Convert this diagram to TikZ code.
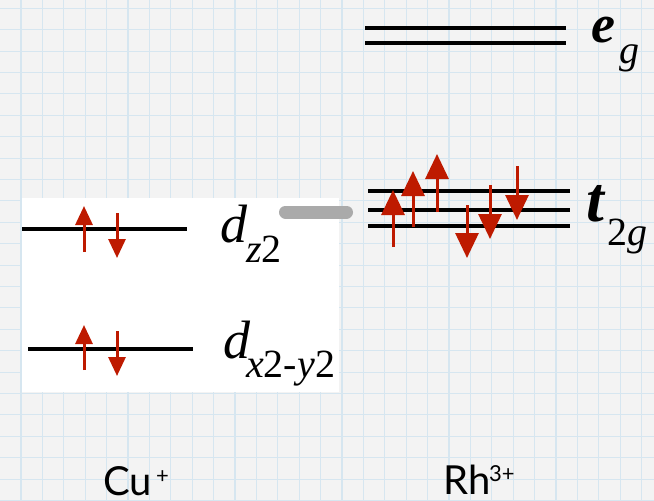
\documentclass[tikz,border=0pt]{standalone}
\usepackage{fontspec}
\setmainfont{Liberation Serif}
\newfontfamily\gillfont{Lato}
\usetikzlibrary{arrows.meta}
\definecolor{bgc}{HTML}{F3F3F3}
\definecolor{gridc}{HTML}{D6E6F0}
\definecolor{spinc}{HTML}{BE1A00}
\definecolor{barc}{HTML}{AAAAAA}
\tikzset{
  level/.style={line width=3.3pt, black},
  tlevel/.style={line width=4pt, black},
  spin/.style={line width=3pt, spinc, -{Triangle[width=17pt,length=19pt]}},
  bigspin/.style={line width=3pt, spinc, -{Triangle[width=23pt,length=25pt]}},
  lbl/.style={inner sep=0pt, anchor=base west, font=\fontsize{54}{54}\selectfont\itshape},
  blbl/.style={inner sep=0pt, anchor=base west, font=\fontsize{54}{54}\selectfont\bfseries\itshape},
  sublbl/.style={inner sep=0pt, anchor=base west, font=\fontsize{40}{40}\selectfont},
  ionlbl/.style={inner sep=0pt, text depth=0pt, anchor=base west, font=\gillfont\fontsize{40}{40}\selectfont},
  ionsup/.style={inner sep=0pt, text depth=0pt, anchor=base west, font=\gillfont\fontsize{22}{22}\selectfont}
}
\begin{document}
\begin{tikzpicture}[x=1pt,y=-1pt]
\useasboundingbox (0,0) rectangle (654,501);
\fill[bgc] (0,0) rectangle (654,501);
\foreach \i in {0,...,30} \draw[gridc, line width=1.1pt] ({21+21.4*\i},0) -- ++(0,501);
\foreach \j in {0,...,23} \draw[gridc, line width=1.1pt] (0,{8.3+21.4*\j}) -- ++(654,0);
% white panel
\fill[white] (22,198) rectangle (339,392);
% Cu+ levels
\coordinate (dz1) at (22,229); \coordinate (dz2) at (187,229);
\draw[level] (dz1) -- (dz2);
\coordinate (dx1) at (28,349); \coordinate (dx2) at (193,349);
\draw[level] (dx1) -- (dx2);
\draw[spin] (84,252) -- (84,206);
\draw[spin] (117,213) -- (117,258);
\draw[spin] (84,370) -- (84,325);
\draw[spin] (117,331) -- (117,376);
\node[lbl] (dzl) at (220,242) {d};
\node[sublbl] (dzs) at (246,262) {\itshape z\upshape 2};
\node[lbl] (dxl) at (223,358) {d};
\node[sublbl] (dxs) at (246,377) {\itshape x\upshape 2-\itshape y\upshape 2};
% gray bar
\draw[barc, line width=13pt, line cap=round] (285.5,212) -- (346.5,212);
% e_g
\draw[tlevel] (365,28) -- (566,28);
\draw[tlevel] (365,43) -- (566,43);
\node[blbl] (el) at (591,42) {e};
\node[sublbl] (es) at (619,63) {\itshape g};
% t2g
\draw[tlevel] (368,191) -- (570,191);
\draw[tlevel] (368,210) -- (570,210);
\draw[tlevel] (368,226) -- (570,226);
\draw[bigspin] (393,247) -- (393,190);
\draw[bigspin] (413,227) -- (413,171);
\draw[bigspin] (437,212) -- (437,154);
\draw[bigspin] (467,205) -- (467,258);
\draw[bigspin] (490,185) -- (490,239);
\draw[bigspin] (517,166) -- (517,220);
\node[inner sep=0pt, anchor=base west, font=\fontsize{64}{64}\selectfont\bfseries\itshape] (tl) at (586,221) {t};
\node[sublbl] (ts) at (607,245) {2\itshape g};
% ion labels
\node[ionlbl] (cu) at (103,495) {Cu};
\node[ionsup] (cus) at (156,483) {+};
\node[ionlbl] (rh) at (443,494) {Rh};
\node[ionsup] (rhs) at (489,481) {3+};
\end{tikzpicture}
\end{document}
